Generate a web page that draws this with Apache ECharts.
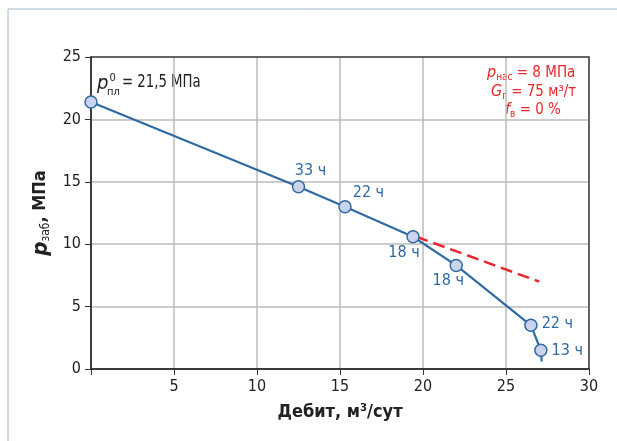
<!DOCTYPE html>
<html>
<head>
<meta charset="utf-8">
<script src="https://cdn.jsdelivr.net/npm/echarts@6/dist/echarts.min.js"></script>
<style>
  html, body { margin: 0; padding: 0; background: #fff; }
  #chart { width: 617px; height: 441px; }
</style>
</head>
<body>
<div id="chart"></div>
<script>
// дебит, м3/сут и забойное давление, МПа
const rates = [0, 12.5, 15.3, 19.4, 22.0, 26.5, 27.1, 27.15];
const pressures = [21.4, 14.6, 13.0, 10.6, 8.3, 3.5, 1.5, 0.6];
const hourLabels = ["", "33 ч", "22 ч", "18 ч", "18 ч", "22 ч", "13 ч", ""];
// красная пунктирная прямая (продолжение)
const trendRates = [19.6, 27.0];
const trendPressures = [10.6, 7.0];
const xTicks = [0, 5, 10, 15, 20, 25, 30];
const yTicks = [0, 5, 10, 15, 20, 25];

const FONT = '"Liberation Sans Narrow", "DejaVu Sans Condensed", sans-serif';
const BLUE = "#2f6aa3";
const RED = "#e8262b";

// где ставить подписи точек
const labelPlace = [
  null,
  { position: "top", offset: [12, 4] },
  { position: "right", offset: [-4, -14] },
  { position: "bottom", offset: [-9, -4] },
  { position: "bottom", offset: [-8, -4] },
  { position: "right", offset: [-1, -1] },
  { position: "right", offset: [-1, 1] },
  null
];

const mainData = rates.map((x, i) => {
  let item = { value: [x, pressures[i]] };
  if (i === rates.length - 1) {
    item.symbol = "none";
  }
  if (labelPlace[i]) {
    item.label = {
      show: true,
      formatter: hourLabels[i],
      position: labelPlace[i].position,
      offset: labelPlace[i].offset
    };
  }
  return item;
});

function redLine(y, top, p, s, t) {
  return {
    type: "text", left: y, top: top,
    style: {
      text: "{p|" + p + "}{s|" + s + "}{t|" + t + "}",
      rich: {
        p: { fontSize: 16, fontStyle: "italic", fill: RED, fontFamily: FONT },
        s: { fontSize: 10, fill: RED, fontFamily: FONT, padding: [8, 0, 0, 0] },
        t: { fontSize: 15, fill: RED, fontFamily: FONT }
      }
    }
  };
}

let myChart = echarts.init(document.getElementById("chart"));
let option = {
  animation: false,
  textStyle: { fontFamily: FONT },
  grid: {
    left: 91, right: 28, top: 57, bottom: 72,
    show: true,
    borderColor: "#333",
    borderWidth: 1.5,
    z: 3
  },
  xAxis: {
    type: "value",
    min: xTicks[0], max: xTicks[xTicks.length - 1], interval: 5,
    name: "Дебит, м³/сут",
    nameLocation: "middle",
    nameGap: 34,
    nameTextStyle: { fontSize: 18, fontWeight: "bold", color: "#222", fontFamily: FONT },
    axisLine: { onZero: false, lineStyle: { color: "#333", width: 1.5 } },
    axisTick: { show: true, length: 6, lineStyle: { color: "#333" } },
    axisLabel: {
      fontSize: 16, color: "#222", margin: 10,
      formatter: v => (v === 0 ? "" : String(v))
    },
    splitLine: { show: true, showMaxLine: false, lineStyle: { color: "#bbb", width: 1.5 } }
  },
  yAxis: {
    type: "value",
    min: yTicks[0], max: yTicks[yTicks.length - 1], interval: 5,
    name: "{p|p}{s|заб}{b|, МПа}",
    nameLocation: "middle",
    nameRotate: 90,
    nameGap: 36,
    nameTextStyle: {
      rich: {
        p: { fontSize: 22, fontWeight: "bold", fontStyle: "italic", color: "#222", fontFamily: FONT },
        s: { fontSize: 12, color: "#222", fontFamily: FONT, padding: [10, 0, 0, 0] },
        b: { fontSize: 18, fontWeight: "bold", color: "#222", fontFamily: FONT }
      }
    },
    axisLine: { show: true, onZero: false, lineStyle: { color: "#333", width: 1.5 } },
    axisTick: { show: true, length: 6, lineStyle: { color: "#333" } },
    axisLabel: { fontSize: 16, color: "#222", margin: 10 },
    splitLine: { show: true, showMaxLine: false, lineStyle: { color: "#bbb", width: 1.5 } }
  },
  series: [
    {
      type: "line",
      data: trendRates.map((x, i) => [x, trendPressures[i]]),
      symbol: "none",
      lineStyle: { color: RED, width: 2.5, type: [12, 6] },
      z: 2
    },
    {
      type: "line",
      data: mainData,
      symbol: "circle",
      symbolSize: 12,
      showAllSymbol: true,
      lineStyle: { color: BLUE, width: 2.2 },
      itemStyle: { color: "#c9d4ec", borderColor: BLUE, borderWidth: 1.5 },
      label: { color: BLUE, fontSize: 16, fontFamily: FONT },
      z: 4
    }
  ],
  graphic: [
    {
      // рамка
      type: "polyline",
      shape: { points: [[8, 441], [8, 9], [617, 9]] },
      style: { stroke: "#9fb4c8", lineWidth: 1, fill: null }
    },
    {
      type: "text", left: 97, top: 73,
      style: {
        text: "{p|p}{sup|0}",
        rich: {
          p: { fontSize: 20, fontStyle: "italic", fill: "#222", fontFamily: FONT },
          sup: { fontSize: 11, fill: "#222", fontFamily: FONT, padding: [0, 0, 10, 1] }
        }
      }
    },
    {
      type: "text", left: 107, top: 87,
      style: { text: "пл", fontSize: 11, fill: "#222", fontFamily: FONT }
    },
    {
      type: "text", left: 122, top: 73, scaleX: 0.82,
      style: { text: "= 21,5 МПа", fontSize: 18, fill: "#222", fontFamily: FONT }
    },
    redLine(487, 65, "p", "нас", " = 8 МПа"),
    redLine(491, 84, "G", "г", " = 75 м³/т"),
    redLine(505, 102, "f", "в", " = 0 %")
  ]
};
myChart.setOption(option);
</script>
</body>
</html>
